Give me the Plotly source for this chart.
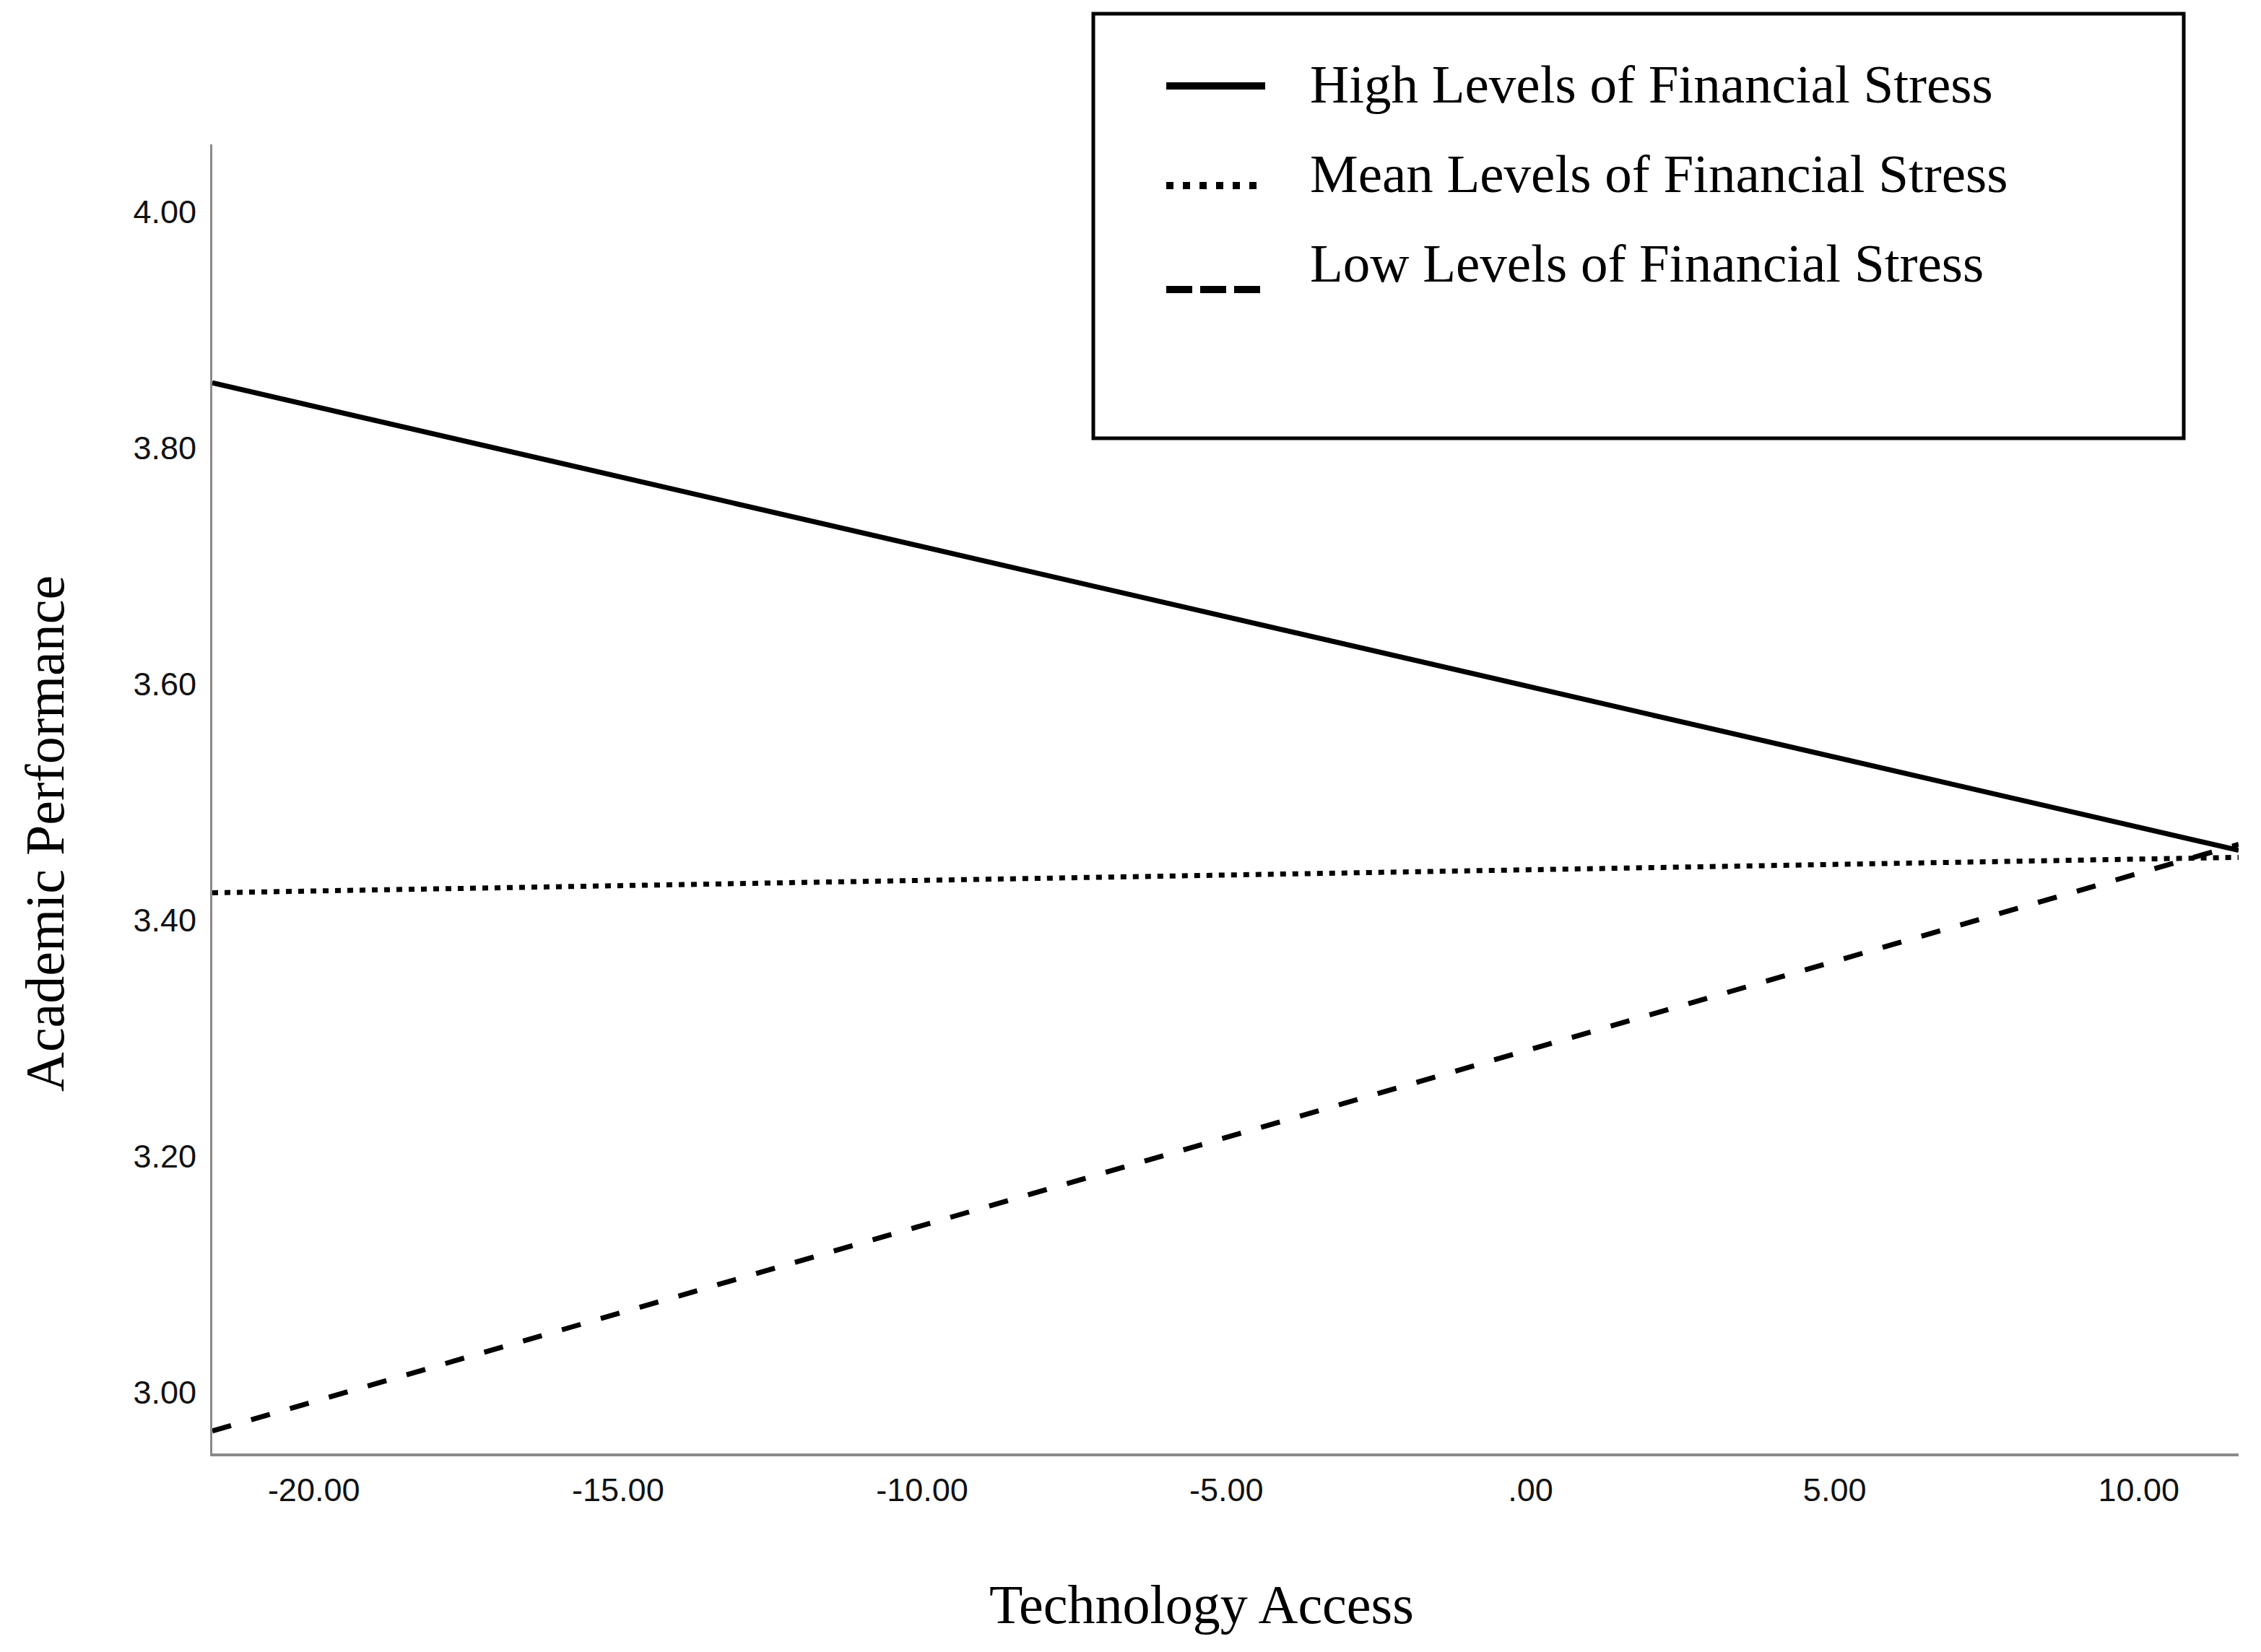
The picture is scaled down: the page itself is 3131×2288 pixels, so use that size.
import plotly.graph_objects as go

# ---- data ----
tech_access = [-21.67, 11.64]
high_stress = [3.855, 3.459]
mean_stress = [3.423, 3.453]
low_stress = [2.967, 3.464]

series_names = [
    "High Levels of Financial Stress",
    "Mean Levels of Financial Stress",
    "Low Levels of Financial Stress",
]

x_tick_vals = [-20, -15, -10, -5, 0, 5, 10]
x_tick_text = ["-20.00", "-15.00", "-10.00", "-5.00", ".00", "5.00", "10.00"]
y_tick_vals = [3.0, 3.2, 3.4, 3.6, 3.8, 4.0]
y_tick_text = ["3.00", "3.20", "3.40", "3.60", "3.80", "4.00"]

x_range = [-21.67, 11.64]
y_range = [2.948, 4.057]

# ---- figure geometry (pixels); page body has an 8px margin ----
OFF = 8
W, H = 3131 - OFF, 2288 - OFF
L, R, T, B = 294 - OFF, 31, 200 - OFF, 275
PW, PH = W - L - R, H - T - B


def px_x(px):
    # px given in screenshot coordinates
    return (px - OFF - L) / PW


def px_y(py):
    return (H - B - (py - OFF)) / PH


serif = "Liberation Serif"
sans = "Liberation Sans"

styles = ["solid", "8px,9px", "27px,29px"]
series = [high_stress, mean_stress, low_stress]

fig = go.Figure()
for name, ys, dash in zip(series_names, series, styles):
    fig.add_trace(go.Scatter(
        x=tech_access, y=ys, mode="lines", name=name,
        line=dict(color="black", width=7, dash=dash),
        showlegend=False, hoverinfo="skip",
    ))

# ---- custom legend (box + samples + labels) ----
fig.add_shape(type="rect", xref="paper", yref="paper",
              x0=px_x(1514), x1=px_x(3024), y0=px_y(607), y1=px_y(19),
              line=dict(color="black", width=5), fillcolor="white", layer="above")

legend_sample_dash = ["solid", "10px,13px", "36px,11px"]
sample_rows = [119, 257, 401]
text_rows = [116, 240, 364]
for name, dash, sy, ty in zip(series_names, legend_sample_dash, sample_rows, text_rows):
    fig.add_shape(type="line", xref="paper", yref="paper",
                  x0=px_x(1615), x1=px_x(1752), y0=px_y(sy), y1=px_y(sy),
                  line=dict(color="black", width=10, dash=dash), layer="above")
    fig.add_annotation(xref="paper", yref="paper", x=px_x(1812), y=px_y(ty),
                       xanchor="left", yanchor="middle", showarrow=False,
                       text=name, font=dict(family=serif, size=75, color="black"))

# ---- axis titles ----
fig.add_annotation(xref="paper", yref="paper", x=px_x(1664), y=px_y(2222),
                   xanchor="center", yanchor="middle", showarrow=False,
                   text="Technology Access",
                   font=dict(family=serif, size=76, color="black"))
fig.add_annotation(xref="paper", yref="paper", x=px_x(62), y=px_y(1155),
                   xanchor="center", yanchor="middle", showarrow=False,
                   textangle=-90, text="Academic Performance",
                   font=dict(family=serif, size=76, color="black"))

fig.update_layout(
    width=W, height=H,
    margin=dict(l=L, r=R, t=T, b=B, pad=0),
    paper_bgcolor="white", plot_bgcolor="white",
    showlegend=False,
)
fig.update_xaxes(
    range=x_range, tickmode="array", tickvals=x_tick_vals, ticktext=x_tick_text,
    showgrid=False, zeroline=False, showline=True, linecolor="#8a8a8a", linewidth=4,
    ticks="", ticklabelstandoff=8,
    tickfont=dict(family=sans, size=45, color="#111111"),
)
fig.update_yaxes(
    range=y_range, tickmode="array", tickvals=y_tick_vals, ticktext=y_tick_text,
    showgrid=False, zeroline=False, showline=True, linecolor="#8a8a8a", linewidth=3,
    ticks="", ticklabelstandoff=10,
    tickfont=dict(family=sans, size=45, color="#111111"),
)

fig.write_html("out.html")
